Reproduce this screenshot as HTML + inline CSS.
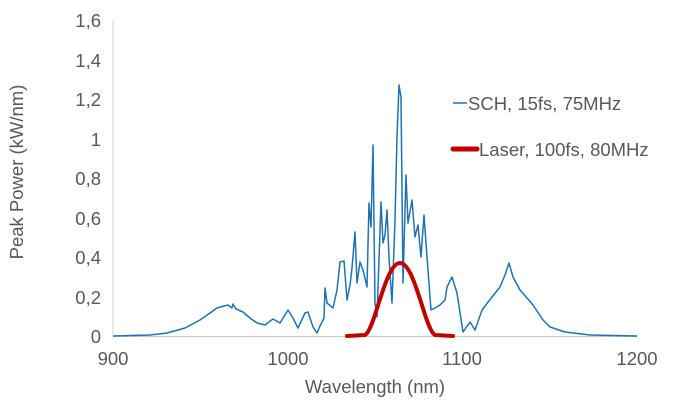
<!DOCTYPE html>
<html><head><style>body{margin:0;background:#fff}svg{display:block}text{font-family:"Liberation Sans",sans-serif;fill:#595959}</style></head><body>
<svg width="681" height="409" viewBox="0 0 681 409">
<line x1="113" y1="20" x2="113" y2="336" stroke="#d0d0d0"/>
<line x1="113" y1="336.5" x2="637" y2="336.5" stroke="#c8c8c8"/>
<g font-size="18.5" text-anchor="end">
<text x="101" y="343">0</text><text x="101" y="304">0,2</text><text x="101" y="264">0,4</text><text x="101" y="225">0,6</text><text x="101" y="185">0,8</text><text x="101" y="146">1</text><text x="101" y="106">1,2</text><text x="101" y="67">1,4</text><text x="101" y="27">1,6</text>
</g>
<g font-size="18.5" text-anchor="middle">
<text x="113" y="365">900</text><text x="288" y="365">1000</text><text x="462" y="365">1100</text><text x="637" y="365">1200</text>
<text x="375" y="393">Wavelength (nm)</text>
<text transform="translate(23,172) rotate(-90)">Peak Power (kW/nm)</text>
</g>
<polyline fill="none" stroke="#1f72b4" stroke-width="1.5" stroke-linejoin="round" points="113,336 150,335 167,333 185,328 200,320 210,313 217,308 224,306 228,305 232,308 233,304 236,309 243,312 250,318 257,323 265,325 273,319 280,323 288,310 293,318 298,328 305,313 308,312 313,327 317,333 320,326 324,318 325,288 327,303 333,308 337,290 340,262 344,261 347,300 350,285 352,268 355,232 357,283 360,262 363,270 367,287 369,203 371,227 373,145 375,303 377,317 381,202 383,243 385,235 387,210 389,257 392,303 395,220 397,137 399,85 401,97 403,283 406,175 408,223 412,200 415,237 418,225 421,257 424,215 427,257 431,310 435,308 440,305 445,300 447,287 452,277 457,293 463,332 470,322 475,330 482,310 492,297 500,287 505,275 509,263 513,277 520,290 527,298 533,305 543,320 550,327 565,332 590,335 637,336"/>
<path fill="none" stroke="#c00000" stroke-width="4" stroke-linecap="round" d="M347,336 L365,335 C375,330 385,263 400,263 C415,263 425,330 435,335 L453,336"/>
<line x1="453" y1="103" x2="467" y2="103" stroke="#1f72b4" stroke-width="1.5"/>
<text x="468" y="110" font-size="18.5">SCH, 15fs, 75MHz</text>
<line x1="453" y1="149" x2="477" y2="149" stroke="#c00000" stroke-width="5" stroke-linecap="round"/>
<text x="479" y="156" font-size="18.5">Laser, 100fs, 80MHz</text>
</svg>
</body></html>
